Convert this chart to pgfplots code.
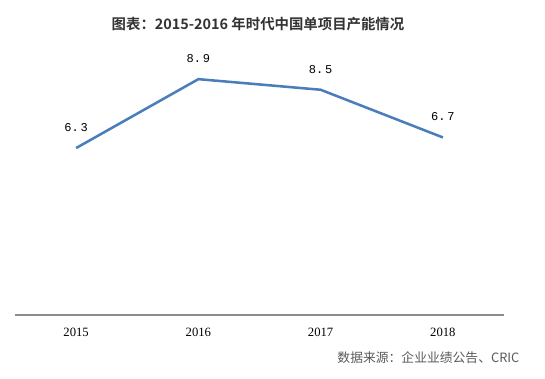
\documentclass[border=0pt]{standalone}
\usepackage{pgfplots}
\pgfplotsset{compat=1.18}
\usepackage{fontspec}
\setmainfont{Liberation Serif}
\newfontfamily\cjk{Noto Sans CJK SC}
\newfontfamily\cjkb{Noto Sans CJK SC Bold}
\newfontfamily\monof{Liberation Mono}
\definecolor{linec}{HTML}{4A7EBB}
\definecolor{axc}{HTML}{8C8C8C}
\definecolor{srcc}{HTML}{595959}
\begin{document}
\begin{tikzpicture}
\useasboundingbox (0,0) rectangle (408.75pt,283.5pt);
\begin{axis}[
  at={(11.25pt,47.25pt)}, anchor=south west,
  scale only axis,
  width=366.75pt, height=198.75pt,
  xmin=-0.5, xmax=3.5, ymin=0, ymax=10,
  axis x line*=bottom,
  hide y axis,
  x axis line style={draw=axc, line width=0.8pt, -},
  xtick={0,1,2,3},
  xticklabels={2015,2016,2017,2018},
  major tick length=0pt,
  xticklabel style={font=\fontsize{9.5}{11}\selectfont, text=black, yshift=-6pt},
  clip=false,
]
\addplot[color=linec, line width=1.9pt, mark=none,
  nodes near coords, point meta=explicit symbolic,
  every node near coord/.style={font=\monof\fontsize{9}{11}\selectfont, text=black, anchor=south, yshift=8pt}]
  coordinates {(0,6.3)[6.\,3] (1,8.9)[8.\,9] (2,8.5)[8.\,5] (3,6.7)[6.\,7]};
\end{axis}
\node[font=\cjkb\fontsize{10.8}{13}\selectfont, text=black!80] at (193.5pt,265.5pt) {图表：2015-2016 年时代中国单项目产能情况};
\node[font=\cjk\fontsize{9.6}{11}\selectfont, text=srcc, anchor=east] at (393pt,15pt) {数据来源：企业业绩公告、CRIC};
\end{tikzpicture}
\end{document}
